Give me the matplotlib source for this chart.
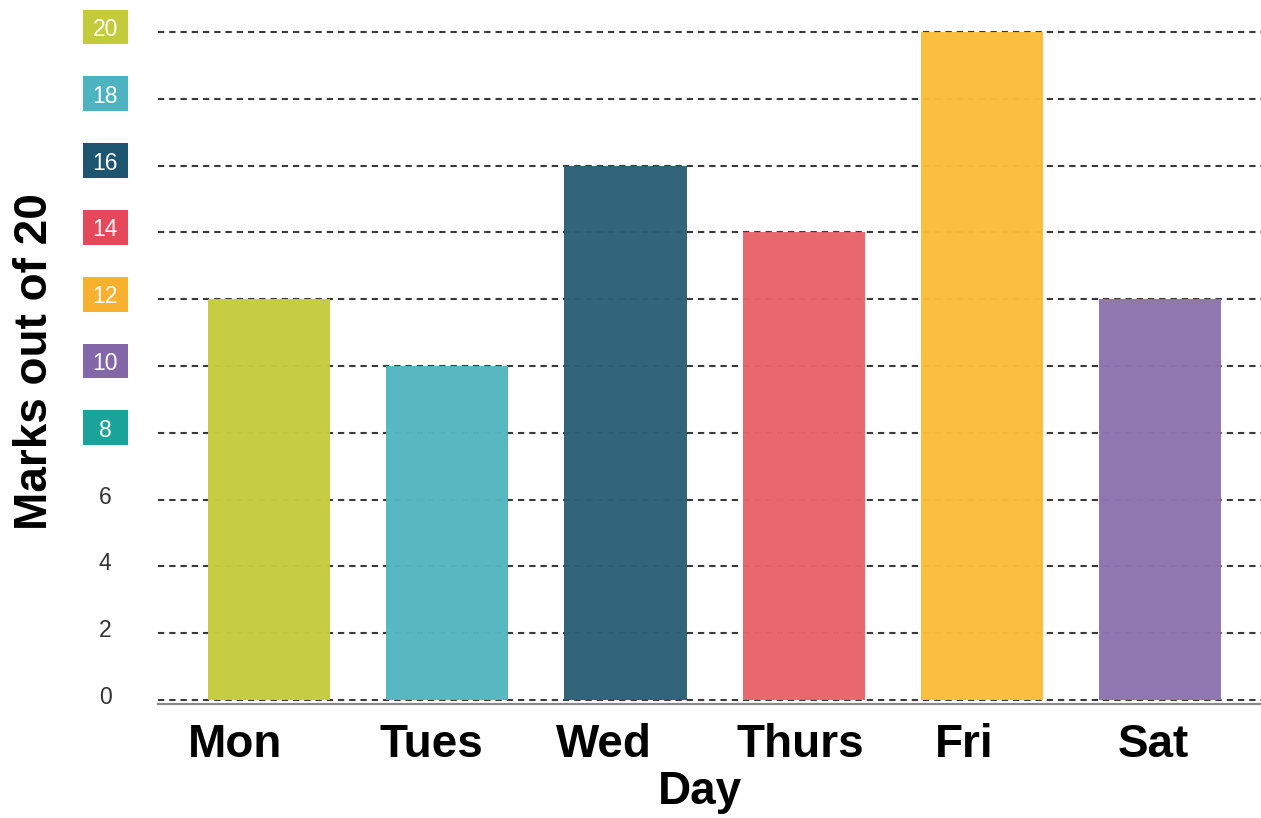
import numpy as np
import matplotlib
matplotlib.use('Agg')
import matplotlib.pyplot as plt
import matplotlib.transforms as mtransforms
from matplotlib.patches import Rectangle

days = ['Mon', 'Tues', 'Wed', 'Thurs', 'Fri', 'Sat']
marks = [12, 10, 16, 14, 20, 12]
bar_colors = ['#c6cc3c', '#52b5bf', '#2b6075', '#e9636b', '#fbbc38', '#8e73ad']

yticks = [0, 2, 4, 6, 8, 10, 12, 14, 16, 18, 20]
# coloured boxes behind some of the y tick labels
box_colors = {8: '#1aa39b', 10: '#8467a9', 12: '#f8b12e', 14: '#e5485a',
              16: '#1d5470', 18: '#4cb4c0', 20: '#c4cb3b'}

# day labels sit a little left of the bar centres (pixels)
label_shift = [-34, -16, -22, -3, -18, -7]

plt.rcParams['font.family'] = ['Liberation Sans', 'DejaVu Sans']

fig = plt.figure(figsize=(12.61, 8.18), dpi=100)
ax = fig.add_axes([158/1261, 1 - 704/818, 1 - 158/1261, 704/818])

x = np.arange(len(days))
ax.bar(x, marks, width=0.685, color=bar_colors, zorder=2, alpha=0.97)

ax.set_xlim(-0.624, 5.567)
ax.set_ylim(-0.12, 20.96)

# grid
ax.set_axisbelow(True)
ax.yaxis.grid(True, color='#3a3a3a', lw=1.5, linestyle=(0, (3, 2.4)))
for sp in ['left', 'right', 'top']:
    ax.spines[sp].set_visible(False)
ax.spines['bottom'].set_color('#8a8a8a')
ax.spines['bottom'].set_linewidth(1.6)

ax.set_xticks(x)
ax.set_xticklabels(days, fontsize=33, fontweight='bold')
ax.tick_params(axis='x', length=0, pad=14)
for lab, dx in zip(ax.get_xticklabels(), label_shift):
    lab.set_transform(lab.get_transform() +
                      mtransforms.ScaledTranslation(dx/100, 0, fig.dpi_scale_trans))

ax.set_yticks(yticks)
ax.set_yticklabels([str(t) for t in yticks], fontsize=16.5)
ax.tick_params(axis='y', length=0, pad=38)

up = mtransforms.ScaledTranslation(0, 5/100, fig.dpi_scale_trans)
for t, lab in zip(yticks, ax.get_yticklabels()):
    lab.set_horizontalalignment('center')
    lab.set_transform(lab.get_transform() + up)
    if t in box_colors:
        lab.set_color('white')
    else:
        lab.set_color('#333333')

# boxes for tick labels
trans = mtransforms.blended_transform_factory(fig.transFigure, ax.transData) + up
for t, c in box_colors.items():
    ax.add_patch(Rectangle((83/1261, t - 0.52), 45/1261, 1.04, transform=trans,
                           facecolor=c, edgecolor='none', clip_on=False, zorder=0.1))

ax.set_xlabel('Day', fontsize=33, fontweight='bold')
ax.xaxis.set_label_coords(0.491, -0.094)
fig.text(35/1261, 1 - 362/818, 'Marks out of 20', rotation=90, fontsize=33,
         fontweight='bold', ha='center', va='center')

fig.savefig('out.png', dpi=100)
